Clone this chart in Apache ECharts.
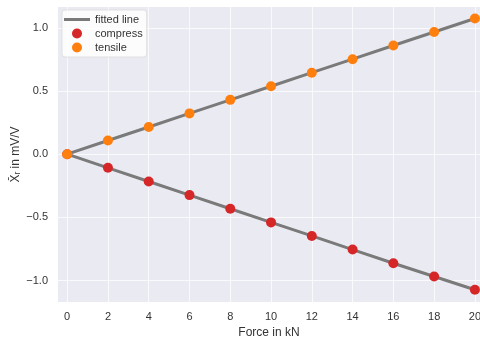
<!DOCTYPE html>
<html><head><meta charset="utf-8">
<script src="https://cdn.jsdelivr.net/npm/echarts@6/dist/echarts.min.js"></script>
<style>html,body{margin:0;padding:0;background:#fff}#c{width:480px;height:339px}</style>
</head><body><div id="c"></div>
<script>
const forces = [0, 2, 4, 6, 8, 10, 12, 14, 16, 18, 20];
const tensile = [0, 0.108, 0.215, 0.323, 0.430, 0.538, 0.645, 0.752, 0.860, 0.967, 1.074];
const compress = [0, -0.108, -0.216, -0.324, -0.432, -0.540, -0.647, -0.755, -0.863, -0.968, -1.073];
const xTicks = [0, 2, 4, 6, 8, 10, 12, 14, 16, 18, 20];
const yTicks = [-1.0, -0.5, 0.0, 0.5, 1.0];

const font = 'Liberation Sans, Arial, sans-serif';
const pair = (xs, ys) => xs.map((x, i) => [x, ys[i]]);
const minus = s => s.replace('-', '\u2212');

const chart = echarts.init(document.getElementById('c'), null, {renderer: 'canvas'});
chart.setOption({
  animation: false,
  backgroundColor: '#ffffff',
  textStyle: {fontFamily: font},
  grid: {left: 58, right: 0, top: 7, bottom: 37, show: true, backgroundColor: '#EAEAF2', borderWidth: 0,
         outerBoundsMode: 'none', containLabel: false},
  legend: {
    orient: 'vertical', left: 62, top: 10,
    data: [
      {name: 'fitted line', icon: 'path://M0,0L26,0L26,3L0,3Z', itemStyle: {color: '#7a7a7a'}},
      {name: 'compress', icon: 'circle'},
      {name: 'tensile', icon: 'circle'}
    ],
    itemWidth: 26, itemHeight: 10, itemGap: 3,
    padding: [4, 4, 4, 2],
    backgroundColor: 'rgba(255,255,255,0.85)', borderColor: '#e0e0e0', borderWidth: 1, borderRadius: 3,
    textStyle: {fontSize: 11, color: '#333', fontFamily: font}
  },
  xAxis: {
    type: 'value', min: -0.45, max: 20.25,
    name: 'Force in kN', nameLocation: 'middle', nameGap: 25, nameMoveOverlap: false,
    nameTextStyle: {fontSize: 12, color: '#333', fontFamily: font},
    axisLine: {show: false}, axisTick: {show: false, customValues: xTicks},
    axisLabel: {customValues: xTicks, fontSize: 11, color: '#333', margin: 9, fontFamily: font},
    splitLine: {show: true, lineStyle: {color: 'rgba(255,255,255,0.75)', width: 1}}
  },
  yAxis: {
    type: 'value', min: -1.17, max: 1.165,
    name: 'X\u0304\u1D63 in mV/V', nameLocation: 'middle', nameGap: 36, nameRotate: 90, nameMoveOverlap: false,
    nameTextStyle: {fontSize: 12, color: '#333', fontFamily: font},
    axisLine: {show: false}, axisTick: {show: false, customValues: yTicks},
    axisLabel: {customValues: yTicks, fontSize: 11, color: '#333', margin: 10, fontFamily: font,
      formatter: v => minus(v.toFixed(1))},
    splitLine: {show: true, lineStyle: {color: 'rgba(255,255,255,0.75)', width: 1}}
  },
  series: [
    {name: 'fitted line', type: 'line', data: pair(forces, tensile), symbol: 'none',
     lineStyle: {color: '#7a7a7a', width: 3}, itemStyle: {color: '#7a7a7a'}, z: 2},
    {name: 'fitted line', type: 'line', data: pair(forces, compress), symbol: 'none',
     lineStyle: {color: '#7a7a7a', width: 3}, itemStyle: {color: '#7a7a7a'}, z: 2},
    {name: 'compress', type: 'scatter', data: pair(forces, compress), symbolSize: 10,
     itemStyle: {color: '#d62728', opacity: 1}, z: 3},
    {name: 'tensile', type: 'scatter', data: pair(forces, tensile), symbolSize: 10,
     itemStyle: {color: '#ff7f0e', opacity: 1}, z: 4}
  ]
});
</script></body></html>
